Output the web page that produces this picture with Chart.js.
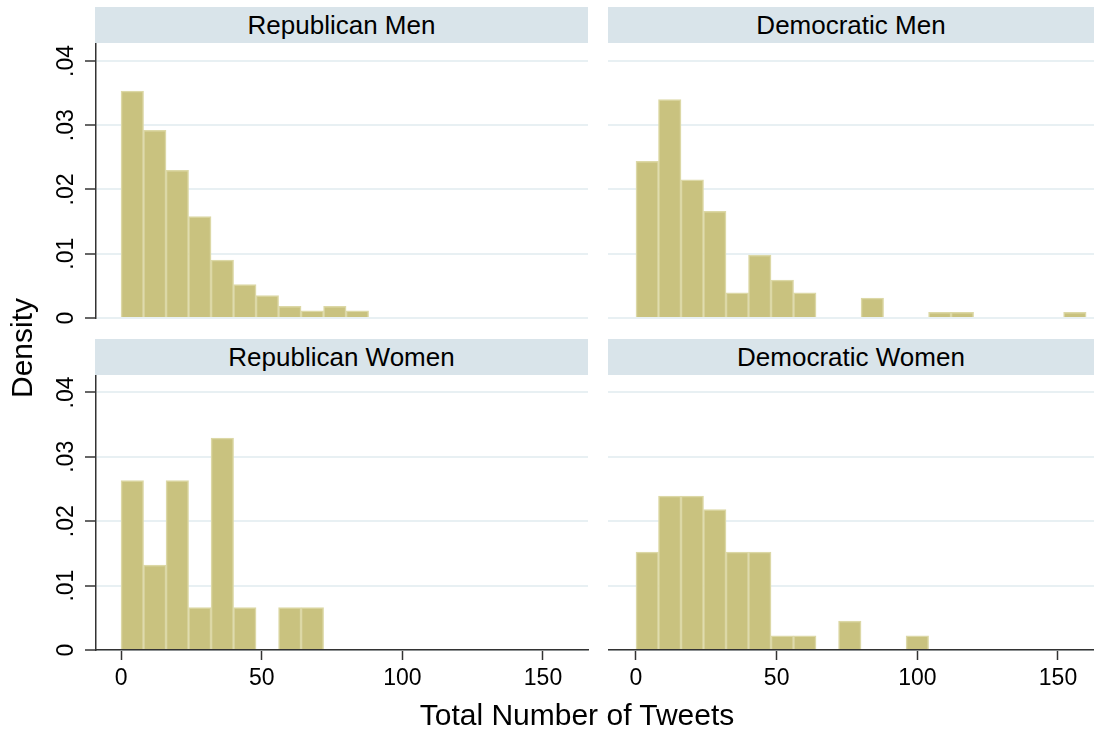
<!DOCTYPE html>
<html>
<head>
<meta charset="utf-8">
<script src="https://cdn.jsdelivr.net/npm/chart.js@4.4.0/dist/chart.umd.min.js"></script>
<style>
  body { margin: 0; background: #fff; width: 1094px; height: 732px; position: relative; overflow: hidden;
         font-family: "Liberation Sans", Arial, sans-serif; }
  canvas { position: absolute; }
  .strip { position: absolute; background: #d9e4ea; color: #000; font-size: 26px; text-align: center;
           height: 36px; line-height: 36px; }
  .axis-title { position: absolute; color: #000; font-size: 30px; line-height: 30px; white-space: nowrap; }
</style>
</head>
<body>
<div class="strip" style="left:95px; top:7px; width:493px;">Republican Men</div>
<div class="strip" style="left:608px; top:7px; width:486px;">Democratic Men</div>
<div class="strip" style="left:95px; top:339px; width:493px;">Republican Women</div>
<div class="strip" style="left:608px; top:339px; width:486px;">Democratic Women</div>

<canvas id="rep-men" width="590" height="287" style="left:0; top:43px;"></canvas>
<canvas id="dem-men" width="486" height="287" style="left:608px; top:43px;"></canvas>
<canvas id="rep-women" width="590" height="325" style="left:0; top:375px;"></canvas>
<canvas id="dem-women" width="486" height="325" style="left:608px; top:375px;"></canvas>

<div class="axis-title" style="left:577px; top:700px; transform: translateX(-50%);">Total Number of Tweets</div>
<div class="axis-title" style="left:22px; top:348px; transform: translate(-50%, -50%) rotate(-90deg);">Density</div>

<script>
// Histogram bins (width 8 tweets)
const binStarts = [0, 8, 16, 24, 32, 40, 48, 56, 64, 72, 80, 88, 96, 104, 112, 120, 128, 136, 144, 152];
const binWidth = 8;

// Density per bin
const repMen   = [0.0353, 0.0292, 0.0230, 0.0158, 0.0090, 0.0052, 0.0035, 0.0018, 0.0011, 0.0018, 0.0011, 0, 0, 0, 0, 0, 0, 0, 0, 0];
const demMen   = [0.0244, 0.0340, 0.0215, 0.0166, 0.0039, 0.0098, 0.0059, 0.0039, 0, 0, 0.0031, 0, 0, 0.0009, 0.0009, 0, 0, 0, 0, 0.0009];
const repWomen = [0.0263, 0.0132, 0.0263, 0.0066, 0.0329, 0.0066, 0, 0.0066, 0.0066, 0, 0, 0, 0, 0, 0, 0, 0, 0, 0, 0];
const demWomen = [0.0152, 0.0239, 0.0239, 0.0218, 0.0152, 0.0152, 0.0022, 0.0022, 0, 0.0045, 0, 0, 0.0022, 0, 0, 0, 0, 0, 0, 0];

// Axis ticks
const xTickValues = [0, 50, 100, 150];
const yTickValues = [0, 0.01, 0.02, 0.03, 0.04];
const yTickLabels = ['0', '.01', '.02', '.03', '.04'];

Chart.defaults.font.family = '"Liberation Sans", Arial, sans-serif';
Chart.defaults.color = '#000';

// Stata-style y labels, turned to read bottom to top
const rotatedYLabels = {
  id: 'rotatedYLabels',
  afterDraw(chart) {
    const s = chart.scales.y;
    const ctx = chart.ctx;
    ctx.save();
    ctx.font = '23px "Liberation Sans", Arial, sans-serif';
    ctx.fillStyle = '#000';
    ctx.textAlign = 'center';
    ctx.textBaseline = 'alphabetic';
    yTickValues.forEach(function (v, i) {
      const y = s.getPixelForValue(v);
      ctx.save();
      ctx.translate(s.right - 23, y);
      ctx.rotate(-Math.PI / 2);
      ctx.fillText(yTickLabels[i], 0, 0);
      ctx.restore();
    });
    ctx.restore();
  }
};

function makePanel(id, values, cfg) {
  new Chart(document.getElementById(id), {
    type: 'bar',
    data: {
      datasets: [{
        // empty bins are left out so nothing is drawn there
        data: binStarts.map((b, i) => ({ x: b + binWidth / 2, y: values[i] > 0 ? values[i] : null })),
        backgroundColor: '#c9c27f',
        borderColor: '#dcd8a6',
        borderWidth: 1.5,
        barPercentage: 1,
        categoryPercentage: 1
      }]
    },
    options: {
      responsive: false,
      animation: false,
      layout: { padding: cfg.padding },
      plugins: { legend: { display: false }, tooltip: { enabled: false } },
      scales: {
        x: {
          type: 'linear',
          min: cfg.xMin,
          max: cfg.xMax,
          offset: false,
          display: cfg.showX,
          afterBuildTicks: s => { s.ticks = xTickValues.map(v => ({ value: v })); },
          afterFit: s => { if (cfg.showX) s.height = 50; },
          grid: { offset: false, drawOnChartArea: false, drawTicks: true, tickLength: 10, tickColor: '#333', tickWidth: 1.5 },
          border: { display: true, color: '#333', width: 1.5 },
          ticks: { font: { size: 23 }, color: '#000', padding: 5, minRotation: 0, maxRotation: 0 }
        },
        y: {
          min: 0,
          max: cfg.yMax,
          afterBuildTicks: s => { s.ticks = yTickValues.map(v => ({ value: v })); },
          afterFit: s => { s.width = cfg.showY ? 96 : 0; },
          grid: { color: '#e8f0f3', lineWidth: 2, drawTicks: cfg.showY, tickLength: 11, tickColor: '#333', tickWidth: 1.5 },
          border: { display: cfg.showY, color: '#333', width: 1.5 },
          ticks: { display: false }
        }
      }
    },
    plugins: cfg.showY ? [rotatedYLabels] : []
  });
}

makePanel('rep-men', repMen, { showX: false, showY: true, xMin: -8.9, xMax: 166, yMax: 0.0428, padding: { right: 2, bottom: 12 } });
makePanel('dem-men', demMen, { showX: false, showY: false, xMin: -9.95, xMax: 162.8, yMax: 0.0428, padding: { bottom: 12 } });
makePanel('rep-women', repWomen, { showX: true, showY: true, xMin: -8.9, xMax: 166, yMax: 0.0427, padding: { right: 2 } });
makePanel('dem-women', demWomen, { showX: true, showY: false, xMin: -9.95, xMax: 162.8, yMax: 0.0427, padding: {} });
</script>
</body>
</html>
